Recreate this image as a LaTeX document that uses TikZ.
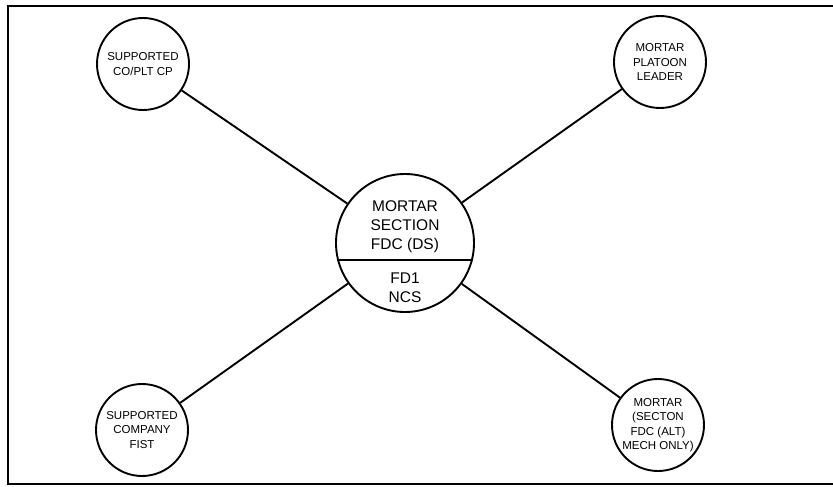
\documentclass[tikz,border=0pt]{standalone}
\usepackage{fontspec}
\setmainfont{Liberation Sans}

\begin{document}
\begin{tikzpicture}[x = 1pt, y = -1pt, line width = 1.9pt,
	stn/.style = {circle, draw, black, minimum size = 92pt, inner sep = 0pt, align = center, font = \fontsize{11.5}{14.5}\selectfont},
	fdcstn/.style = {circle, draw, black, minimum size = 138pt, inner sep = 0pt},
	fdctxt/.style = {black, align = center, inner sep = 0pt, font = \fontsize{15.5}{19}\selectfont}]

	\useasboundingbox (0, 0) rectangle (833, 487);

	\draw[solid, black] (833, 6) -- (8, 6) -- (8, 484) -- (833, 484); % Marco

	% Estaciones
	\node[fdcstn] (fdc) at (405, 243) {};
	\node[stn] (cocp) at (143, 64) {SUPPORTED\\CO/PLT CP};
	\node[stn] (pltldr) at (660, 62) {MORTAR\\PLATOON\\LEADER};
	\node[stn] (fist) at (142, 430) {SUPPORTED\\COMPANY\\FIST};
	\node[stn] (altfdc) at (658, 425) {MORTAR\\(SECTON\\FDC (ALT)\\MECH ONLY)};

	% FDC (DS)
	\node[fdctxt] (fdcup) at (405, 227) {MORTAR\\SECTION\\FDC (DS)};
	\node[fdctxt] (fdcdn) at (405, 288) {FD1\\NCS};
	\draw[solid, black] (fdc.194.9) -- (fdc.-14.9);

	\draw[solid, black] (fdc) -- (cocp);
	\draw[solid, black] (fdc) -- (pltldr);
	\draw[solid, black] (fdc) -- (fist);
	\draw[solid, black] (fdc) -- (altfdc);

\end{tikzpicture}
\end{document}
